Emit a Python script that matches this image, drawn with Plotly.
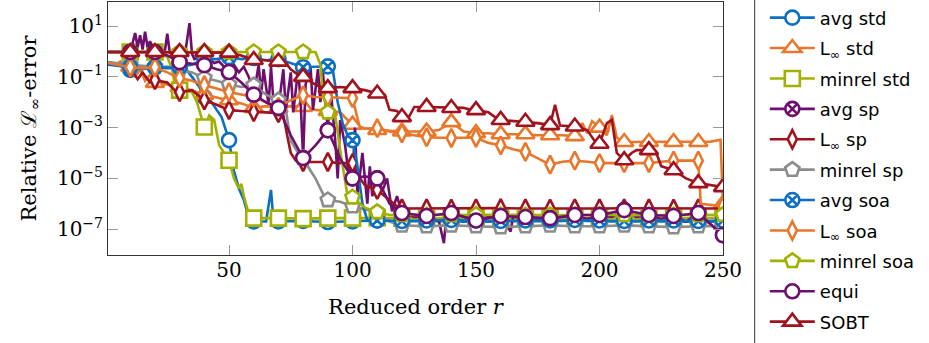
import plotly.graph_objects as go

# ---------------- data: (reduced order r, relative L_inf error) ----------------
R_MARKERS = list(range(10, 251, 10))

AVG_STD = [(1,0.38),(5,0.3),(10,0.19),(15,0.25),(20,0.24),(25,0.25),(30,0.22),(33,0.18),(35,0.1),(38,0.04),
           (40,0.016),(43,0.01),(45,0.005),(47,0.0026),(50,3.2e-4),(52,2e-5),(54,4e-6),(56,1.4e-6),(58,3e-7),
           (60,2e-7),(65,2e-7),(67,3.5e-6),(68,2e-7),(70,2e-7),(80,2.1e-7),(90,1.9e-7),(100,2e-7),(110,2.2e-7),
           (120,2e-7),(130,2.1e-7),(140,2e-7),(150,1.9e-7),(160,2e-7),(170,2.1e-7),(180,2e-7),(190,2.2e-7),
           (200,2e-7),(210,2e-7),(220,2.1e-7),(230,2e-7),(240,1.9e-7),(250,2e-7)]

L_INF_STD = [(1,0.35),(4,0.3),(6,0.4),(8,0.3),(10,0.25),(12,0.1),(14,0.2),(16,0.07),(18,0.12),(20,0.058),
             (25,0.05),(30,0.04),(35,0.03),(40,0.02),(45,0.015),(50,0.012),(55,0.009),(60,0.006),(65,0.007),
             (70,0.006),(75,0.007),(80,0.0065),(85,0.005),(90,0.0045),(95,0.004),(98,0.002),(100,0.0013),
             (105,9.5e-4),(110,8e-4),(115,7.5e-4),(120,7e-4),(125,7e-4),(130,7e-4),(135,8e-4),(140,1.65e-3),
             (145,7e-4),(150,6e-4),(155,6e-4),(160,5.5e-4),(165,5.5e-4),(170,5.5e-4),(175,5e-4),(180,5e-4),
             (185,5e-4),(190,4.6e-4),(193,1.5e-3),(195,6e-4),(197,1.8e-3),(200,1.0e-3),(203,5e-4),(205,3.1e-3),
             (207,4e-4),(210,2.7e-4),(215,2.7e-4),(220,2.7e-4),(225,2.8e-4),(230,2.7e-4),(235,2.8e-4),
             (240,2.7e-4),(245,2.8e-4),(249,3.3e-4),(250,1e-6)]

MINREL_STD = [(1,0.95),(5,0.95),(10,0.95),(15,0.95),(20,0.95),(23,0.8),(25,0.6),(27,0.2),(28,0.05),(30,0.03),
              (33,0.028),(35,0.025),(37,0.01),(38,0.005),(40,1.05e-3),(42,3e-3),(44,2e-3),(46,2e-4),(48,1e-4),
              (50,5.2e-5),(52,1e-5),(54,4e-6),(55,6e-6),(56,2e-6),(58,4e-7),(60,2.7e-7),(70,2.7e-7),(80,2.6e-7),
              (90,2.7e-7),(100,2.7e-7),(110,2.8e-7),(120,2.7e-7),(130,2.6e-7),(140,2.7e-7),(150,2.8e-7),
              (160,2.7e-7),(170,2.6e-7),(180,2.7e-7),(190,2.7e-7),(200,2.8e-7),(210,2.7e-7),(220,2.6e-7),
              (230,2.7e-7),(240,2.7e-7),(250,2.8e-7)]

AVG_SP = [(1,0.95),(5,0.95),(8,1.0),(10,0.95),(12,5.3),(13,1.5),(14,4.4),(15,1.2),(16,6.0),(17,1.5),(18,2.5),
          (20,0.95),(22,1.2),(24,1.0),(25,5.0),(26,0.9),(28,0.7),(30,0.38),(32,0.6),(34,13),(35,0.8),(36,0.5),
          (38,0.6),(40,0.29),(42,0.5),(44,0.35),(46,0.4),(48,0.25),(50,0.155),(52,0.3),(54,0.15),(56,0.25),
          (58,0.1),(60,0.02),(62,0.3),(63,0.02),(64,0.2),(66,0.008),(67,0.25),(68,0.01),(70,0.006),(72,0.2),
          (73,0.005),(75,0.15),(76,0.004),(78,0.2),(79,0.01),(80,6.3e-5),(81,0.05),(83,0.25),(84,0.005),
          (86,0.2),(87,0.01),(88,0.15),(90,7.9e-4),(91,0.05),(93,3e-4),(94,1e-5),(95,0.002),(97,2e-4),
          (98,3e-5),(100,1e-5),(101,1e-3),(102,2e-6),(104,1e-4),(106,1e-6),(107,3e-5),(108,2e-6),(110,1e-5),
          (112,3e-6),(114,1e-5),(116,5e-7),(118,2e-6),(120,4.3e-7),(125,3e-7),(130,3.3e-7),(135,2e-7),
          (137,2.8e-8),(138,3e-7),(140,4.3e-7),(145,3e-7),(150,2.2e-7),(155,3e-7),(160,3.3e-7),(164,8e-8),
          (165,3e-7),(170,3e-7),(175,2.5e-7),(180,2.7e-7),(185,3e-7),(190,3.6e-7),(195,2.5e-7),(200,3.6e-7),
          (205,3e-7),(210,5.6e-7),(215,3e-7),(220,3.6e-7),(225,2.5e-7),(230,3.3e-7),(235,2e-7),(240,4.3e-7),
          (245,1.5e-7),(250,5.8e-8)]

L_INF_SP = [(1,0.35),(5,0.3),(8,0.25),(10,0.22),(13,0.08),(15,0.15),(18,0.06),(20,0.074),(25,0.06),(28,0.03),
            (30,0.025),(35,0.03),(40,0.012),(45,0.008),(50,0.0049),(55,0.0045),(60,0.0041),(65,0.004),
            (70,0.0037),(72,0.003),(74,3e-4),(75,1e-4),(77,5e-5),(80,4.4e-5),(85,4.4e-5),(90,4.4e-5),(95,4e-5),
            (100,4e-5),(103,1e-5),(105,5.4e-6),(110,3.5e-6),(113,2e-6),(115,1.4e-6),(118,8e-7),(120,6.5e-7),
            (130,6.6e-7),(140,6.4e-7),(150,6.5e-7),(160,6.7e-7),(170,6.5e-7),(180,6.4e-7),(190,6.6e-7),
            (200,6.5e-7),(210,6.6e-7),(220,6.5e-7),(230,6.4e-7),(240,6.6e-7),(250,6.5e-7)]

MINREL_SP = [(1,0.38),(10,0.3),(20,0.25),(30,0.2),(35,0.15),(40,0.09),(45,0.07),(50,0.05),(55,0.04),(60,0.047),
             (65,0.02),(70,0.012),(73,0.005),(75,3e-4),(78,1e-4),(80,6.3e-5),(83,2e-5),(85,1e-5),(88,2.5e-6),
             (90,1.4e-6),(95,1.2e-6),(100,8e-7),(105,6e-7),(110,4.7e-7),(115,2e-7),(120,1.4e-7),(130,1.3e-7),
             (140,1.4e-7),(150,1.3e-7),(160,1.2e-7),(170,1.3e-7),(180,1.4e-7),(190,1.3e-7),(200,1.3e-7),
             (210,1.4e-7),(220,1.3e-7),(230,1.2e-7),(240,1.3e-7),(250,1.3e-7)]

AVG_SOA = [(1,0.3),(5,0.28),(10,0.24),(15,0.2),(20,0.24),(25,0.22),(30,0.25),(35,0.3),(40,0.5),(45,0.5),
           (50,0.6),(55,0.5),(60,0.55),(65,0.45),(70,0.5),(75,0.35),(80,0.24),(85,0.25),(90,0.26),(92,0.2),
           (94,0.01),(96,1.5e-3),(98,5e-4),(100,3.2e-4),(102,3e-5),(104,1e-6),(106,2.2e-7),(110,2.2e-7),
           (120,2.1e-7),(130,2.2e-7),(140,2.3e-7),(150,2.2e-7),(160,2.1e-7),(170,2.2e-7),(180,2.2e-7),
           (190,2.3e-7),(200,2.2e-7),(210,2.1e-7),(220,2.2e-7),(230,2.2e-7),(240,2.1e-7),(250,2.2e-7)]

L_INF_SOA = [(1,0.35),(5,0.3),(10,0.24),(15,0.22),(20,0.24),(25,0.15),(30,0.089),(35,0.07),(40,0.047),
             (45,0.035),(50,0.025),(55,0.02),(60,0.016),(65,0.01),(70,0.0065),(75,0.012),(80,0.019),(85,0.016),
             (90,0.016),(95,0.015),(100,0.0145),(102,2e-3),(103,9.5e-4),(105,9e-4),(110,9.5e-4),(115,7e-4),
             (120,6e-4),(125,5e-4),(130,4.2e-4),(135,4e-4),(140,3.9e-4),(145,4e-4),(150,4e-4),(155,2.5e-4),
             (160,2e-4),(165,1.4e-4),(170,1.1e-4),(175,6e-5),(180,3.5e-5),(185,4.5e-5),(190,5e-5),(195,4.5e-5),
             (200,4e-5),(205,4e-5),(210,4e-5),(215,4e-5),(220,4e-5),(225,4.5e-5),(230,5e-5),(235,5e-5),
             (240,5e-5),(241,1e-6),(245,9e-7),(250,8e-7)]

MINREL_SOA = [(1,0.95),(10,0.95),(20,0.95),(30,0.95),(40,0.95),(50,0.95),(60,0.95),(70,0.95),(80,0.95),
              (85,0.95),(87,0.3),(88,0.02),(90,4e-3),(93,3.1e-3),(95,1.3e-4),(98,2e-6),(100,1.8e-6),(105,7e-7),
              (110,4.7e-7),(115,3.6e-7),(120,3.6e-7),(130,3.5e-7),(140,3.6e-7),(150,3.7e-7),(160,3.6e-7),
              (170,3.5e-7),(180,3.6e-7),(190,3.6e-7),(200,3.7e-7),(210,3.6e-7),(220,3.5e-7),(230,3.6e-7),
              (240,3.6e-7),(250,3.7e-7)]

EQUI = [(1,0.95),(10,0.95),(20,0.95),(25,0.7),(30,0.38),(35,0.33),(40,0.29),(45,0.2),(50,0.155),(55,0.06),
        (60,0.02),(65,0.01),(70,0.006),(75,5e-4),(80,6.3e-5),(85,2e-4),(90,7.9e-4),(95,6e-5),(100,1.0e-5),
        (105,1.2e-5),(110,1.0e-5),(115,1e-6),(120,4.3e-7),(130,3.3e-7),(140,4.3e-7),(150,2.2e-7),(160,3.3e-7),
        (170,3e-7),(180,2.7e-7),(190,3.6e-7),(200,3.6e-7),(210,5.6e-7),(220,3.6e-7),(230,3.3e-7),(240,4.3e-7),
        (250,5.8e-8)]

SOBT = [(1,0.95),(10,0.95),(20,0.95),(30,0.95),(40,0.95),(45,0.95),(50,0.9),(55,0.7),(60,0.46),(65,0.45),
        (70,0.4),(73,0.35),(75,0.2),(78,0.12),(80,0.1),(85,0.05),(88,0.036),(90,0.036),(95,0.04),(100,0.036),
        (105,0.03),(110,0.022),(113,0.02),(115,0.005),(118,0.0045),(120,0.0026),(123,0.0028),(125,0.0065),
        (130,0.0065),(140,0.0059),(145,0.006),(148,0.0049),(150,0.0049),(155,0.004),(158,0.0025),(160,0.002),
        (170,0.0017),(175,0.0015),(180,0.00125),(182,0.008),(184,0.0012),(190,0.0011),(195,0.0008),
        (198,0.0003),(200,2.3e-4),(203,1.5e-3),(205,2e-3),(207,1e-4),(210,5.2e-5),(213,1e-4),(215,1.3e-4),
        (220,1.3e-4),(223,1e-4),(225,3e-5),(230,2.1e-5),(235,1e-5),(240,6.5e-6),(245,5.5e-6),(250,4.5e-6)]

X_TICKS = [50, 100, 150, 200, 250]
Y_TICKS = [1e1, 1e-1, 1e-3, 1e-5, 1e-7]
Y_TICK_TEXT = ["10<sup>1</sup>", "10<sup>−1</sup>", "10<sup>−3</sup>", "10<sup>−5</sup>", "10<sup>−7</sup>"]

# ---------------- styles ----------------
BLUE = "#0B6FC2"
ORANGE = "#E8772B"
OLIVE = "#A2B000"
PURPLE = "#6E0F6E"
DARKRED = "#A0121E"
GRAY = "#8C8C8C"

SERIES = [
    ("avg std", AVG_STD, BLUE, "circle", 14),
    ("L<sub>∞</sub> std", L_INF_STD, ORANGE, "triangle-up", 16),
    ("minrel std", MINREL_STD, OLIVE, "square", 15),
    ("avg sp", AVG_SP, PURPLE, "circle-x", 14),
    ("L<sub>∞</sub> sp", L_INF_SP, DARKRED, "diamond-tall", 13),
    ("minrel sp", MINREL_SP, GRAY, "pentagon", 15),
    ("avg soa", AVG_SOA, BLUE, "circle-x", 14),
    ("L<sub>∞</sub> soa", L_INF_SOA, ORANGE, "diamond-tall", 13),
    ("minrel soa", MINREL_SOA, OLIVE, "pentagon", 15),
    ("equi", EQUI, PURPLE, "circle", 14),
    ("SOBT", SOBT, DARKRED, "triangle-up", 16),
]

LW = 2.6
fig = go.Figure()
for name, data, color, symbol, size in SERIES:
    rs = [p[0] for p in data]
    es = [p[1] for p in data]
    mr = [p[0] for p in data if p[0] in R_MARKERS]
    me = [p[1] for p in data if p[0] in R_MARKERS]
    marker = dict(symbol=symbol, size=size, color="white", line=dict(color=color, width=LW))
    fig.add_trace(go.Scatter(x=rs, y=es, mode="lines", line=dict(color=color, width=LW),
                             legendgroup=name, showlegend=False, hoverinfo="skip"))
    fig.add_trace(go.Scatter(x=mr, y=me, mode="markers", marker=marker,
                             legendgroup=name, showlegend=False))
    fig.add_trace(go.Scatter(x=[None], y=[None], mode="lines+markers", name=name,
                             line=dict(color=color, width=LW), marker=marker,
                             legendgroup=name, showlegend=True))

SERIF = "DejaVu Serif"
fig.update_layout(
    width=929, height=343,
    margin=dict(l=108, r=206, t=2, b=88, autoexpand=False),
    paper_bgcolor="white", plot_bgcolor="white",
    font=dict(family=SERIF, size=20, color="black"),
    showlegend=True,
    legend=dict(x=1.068, xanchor="left", y=1.01, yanchor="top",
                font=dict(family="DejaVu Sans", size=18, color="black"),
                bgcolor="rgba(0,0,0,0)", borderwidth=0, tracegroupgap=4,
                itemwidth=45, traceorder="grouped", maxheight=400),
    xaxis=dict(range=[1, 250], tickvals=X_TICKS, ticks="inside", ticklen=10, tickcolor="#999999",
               showline=True, linecolor="#333333", linewidth=1, mirror="ticks", showgrid=False,
               zeroline=False, automargin=False, ticklabelstandoff=-3, tickfont=dict(family=SERIF, size=20),
               title=dict(text="Reduced order <i>r</i>", font=dict(family=SERIF, size=21), standoff=18)),
    yaxis=dict(type="log", range=[-8.02, 1.95], tickvals=Y_TICKS, ticktext=Y_TICK_TEXT,
               ticks="inside", ticklen=10, tickcolor="#999999",
               showline=True, linecolor="#333333", linewidth=1, mirror="ticks", showgrid=False,
               zeroline=False, automargin=False, tickfont=dict(family=SERIF, size=20),
               title=dict(text="Relative ℒ<sub>∞</sub>-error", font=dict(family=SERIF, size=21),
                          standoff=14)),
    shapes=[dict(type="line", xref="paper", yref="paper", x0=1.0515, x1=1.0515, y0=-0.36, y1=1.02,
                 line=dict(color="#333333", width=1))],
)

fig.write_html("out.html", config={"displayModeBar": False},
               post_script="document.body.style.margin='0';document.body.style.overflow='hidden';")
